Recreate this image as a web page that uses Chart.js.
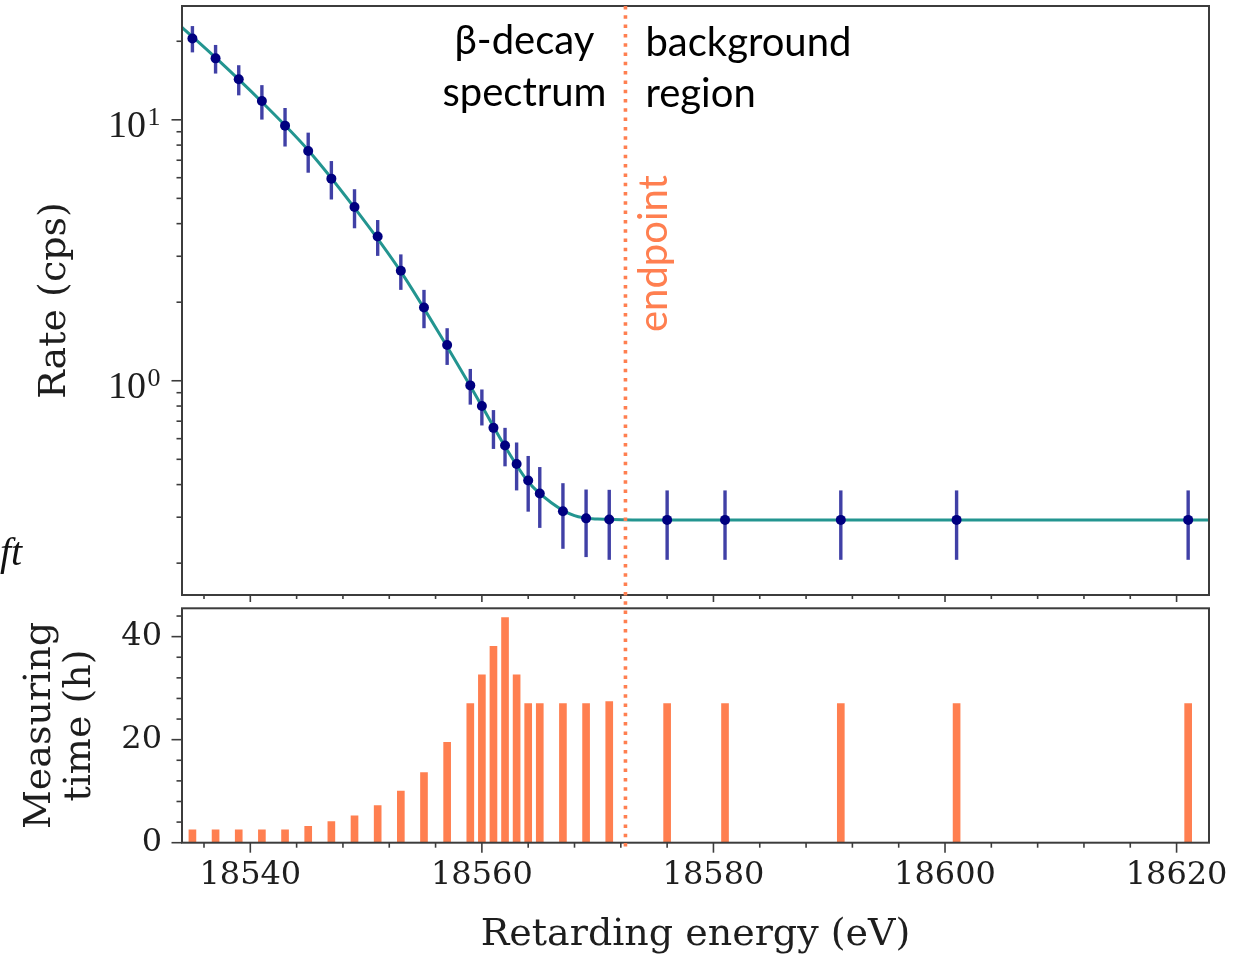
<!DOCTYPE html>
<html>
<head>
<meta charset="utf-8">
<script src="https://cdn.jsdelivr.net/npm/chart.js@4.4.1/dist/chart.umd.min.js"></script>
<style>
  html, body { margin: 0; padding: 0; background: #fff; }
  #fig { position: relative; width: 1246px; height: 956px; background: #fff; overflow: hidden; }
  #rate { position: absolute; left: 0; top: 0; }
  #time { position: absolute; left: 0; top: 602px; }
</style>
</head>
<body>
<div id="fig">
  <canvas id="rate" width="1246" height="602"></canvas>
  <canvas id="time" width="1246" height="354"></canvas>
</div>
<script>
// Retarding energies of the scan steps (eV)
const energies = [18535, 18537, 18539, 18541, 18543, 18545, 18547, 18549, 18551, 18553,
                  18555, 18557, 18559, 18560, 18561, 18562, 18563, 18564, 18565, 18567,
                  18569, 18571, 18576, 18581, 18591, 18601, 18621];
// Measured count rate (cps) and its uncertainty
const rates = [20.5, 17.2, 14.3, 11.8, 9.5, 7.6, 5.95, 4.63, 3.57, 2.64,
               1.91, 1.37, 0.96, 0.80, 0.66, 0.565, 0.48, 0.415, 0.37, 0.316,
               0.297, 0.294, 0.293, 0.293, 0.293, 0.293, 0.293];
const rateErrors = [2.37, 2.16, 1.89, 1.78, 1.6, 1.33, 1.0, 0.79, 0.56, 0.41,
                    0.32, 0.22, 0.15, 0.126, 0.112, 0.095, 0.10, 0.10, 0.097, 0.089,
                    0.086, 0.088, 0.087, 0.087, 0.087, 0.087, 0.087];
// Measuring time per scan step (h)
const hours = [2.5, 2.5, 2.5, 2.5, 2.5, 3.2, 4.1, 5.2, 7.2, 10.0,
               13.6, 19.5, 27.0, 32.6, 38.1, 43.7, 32.6, 27.0, 27.0, 27.0,
               27.0, 27.4, 27.0, 27.0, 27.0, 27.0, 27.0];
// Model curve
const fitEnergies = [18534.1, 18537, 18541, 18545, 18549, 18553, 18557, 18560, 18562,
                     18564, 18566, 18568, 18570, 18573, 18580, 18622.8];
const fitRates = [22.6, 17.3, 11.7, 7.65, 4.6, 2.62, 1.35, 0.80, 0.56,
                  0.41, 0.341, 0.304, 0.295, 0.293, 0.293, 0.293];
const endpointEnergy = 18572.4;

// Axis ticks and labels
const energyTicks = [18540, 18560, 18580, 18600, 18620];
const rateTicks = [1, 10];
const rateTickExponents = ['0', '1'];
const rateMinorTicks = [0.2, 0.3, 0.4, 0.5, 0.6, 0.7, 0.8, 0.9, 2, 3, 4, 5, 6, 7, 8, 9, 20];
const hourTicks = [0, 20, 40];

const xMin = 18534.1, xMax = 18622.8;

function minorSteps(lo, hi, step, majors) {
  const out = [];
  for (let v = lo; v <= hi + 1e-9; v += step) if (!majors.includes(v)) out.push(v);
  return out;
}
const energyMinorTicks = minorSteps(18536, 18620, 4, energyTicks);
const hourMinorTicks = minorSteps(4, 44, 4, hourTicks);

const SERIF = '"DejaVu Serif", serif';
const TIMES = '"Liberation Serif", serif';
const SANS = 'Lato, "Noto Sans", sans-serif';
const INK = '#1e1e1e';
const CORAL = '#ff7f50';
const PERIOD = 9.3;

function noLabelPadding(s) {
  s.paddingTop = 0; s.paddingBottom = 0; s.paddingLeft = 0; s.paddingRight = 0;
}

// frame around the plot area plus major/minor tick marks
function frameAndTicks(marks) {
  return {
    id: 'frameAndTicks',
    afterDraw(chart) {
      const { ctx, chartArea: a } = chart;
      ctx.save();
      ctx.strokeStyle = '#3c3c3c';
      ctx.lineWidth = 1.6;
      for (const m of marks) {
        const s = chart.scales[m.scale];
        for (const [vals, len] of [[m.major, m.majorLen], [m.minor, m.minorLen]]) {
          for (const v of vals) {
            const p = s.getPixelForValue(v);
            ctx.beginPath();
            if (m.scale === 'x') { ctx.moveTo(p, a.bottom); ctx.lineTo(p, a.bottom + len); }
            else { ctx.moveTo(a.left, p); ctx.lineTo(a.left - len, p); }
            ctx.stroke();
          }
        }
      }
      ctx.lineWidth = 2;
      ctx.strokeRect(a.left, a.top, a.right - a.left, a.bottom - a.top);
      ctx.restore();
    }
  };
}

// dotted vertical line at the endpoint energy
function endpointLine(fromTop, toBottom, phase) {
  return {
    id: 'endpointLine',
    afterDraw(chart) {
      const { ctx, chartArea: a } = chart;
      const px = chart.scales.x.getPixelForValue(endpointEnergy);
      ctx.save();
      ctx.strokeStyle = CORAL;
      ctx.lineWidth = 3.6;
      ctx.setLineDash([3.5, PERIOD - 3.5]);
      ctx.lineDashOffset = phase;
      ctx.beginPath();
      ctx.moveTo(px, fromTop(a, chart));
      ctx.lineTo(px, toBottom(a, chart));
      ctx.stroke();
      ctx.restore();
    }
  };
}

// vertical error bars of the rate points
const errorBars = {
  id: 'errorBars',
  beforeDatasetsDraw(chart) {
    const { ctx, chartArea: a, scales: { x, y } } = chart;
    ctx.save();
    ctx.beginPath();
    ctx.rect(a.left, a.top, a.right - a.left, a.bottom - a.top);
    ctx.clip();
    ctx.strokeStyle = 'rgba(30, 30, 150, 0.85)';
    ctx.lineWidth = 3.4;
    energies.forEach((e, i) => {
      const px = x.getPixelForValue(e);
      ctx.beginPath();
      ctx.moveTo(px, y.getPixelForValue(rates[i] + rateErrors[i]));
      ctx.lineTo(px, y.getPixelForValue(rates[i] - rateErrors[i]));
      ctx.stroke();
    });
    ctx.restore();
  }
};

// 10^n labels of the log axis
const logLabels = {
  id: 'logLabels',
  afterDraw(chart) {
    const { ctx, chartArea: a } = chart;
    const s = chart.scales.y;
    ctx.save();
    ctx.fillStyle = INK;
    ctx.textBaseline = 'alphabetic';
    ctx.textAlign = 'right';
    rateTicks.forEach((v, i) => {
      const py = s.getPixelForValue(v);
      const right = a.left - 21.5;
      ctx.font = '26px ' + TIMES;
      ctx.fillText(rateTickExponents[i], right, py + 5);
      const ew = ctx.measureText(rateTickExponents[i]).width;
      ctx.font = '38px ' + TIMES;
      ctx.fillText('10', right - ew - 1.5, py + 17.5);
    });
    ctx.restore();
  }
};

// region annotations
const annotations = {
  id: 'annotations',
  afterDraw(chart) {
    const { ctx } = chart;
    const px = chart.scales.x.getPixelForValue(endpointEnergy);
    ctx.save();
    ctx.font = '40px ' + SANS;
    ctx.fillStyle = '#000';
    ctx.textBaseline = 'alphabetic';
    ctx.textAlign = 'center';
    ctx.fillText('β-decay', px - 101, 54);
    ctx.fillText('spectrum', px - 101, 106);
    ctx.textAlign = 'left';
    ctx.fillText('background', px + 20, 56);
    ctx.fillText('region', px + 20, 107);
    ctx.fillStyle = CORAL;
    ctx.translate(px + 9, 332);
    ctx.rotate(-Math.PI / 2);
    ctx.textBaseline = 'top';
    ctx.fillText('endpoint', 0, 0);
    ctx.restore();
    ctx.save();
    ctx.font = 'italic 40px ' + TIMES;
    ctx.fillStyle = '#111';
    ctx.fillText('ft', 0, 565);
    ctx.restore();
  }
};

const commonPlugins = { legend: { display: false }, tooltip: { enabled: false } };

new Chart(document.getElementById('rate'), {
  type: 'line',
  data: {
    datasets: [
      {
        label: 'data',
        data: energies.map((e, i) => ({ x: e, y: rates[i] })),
        showLine: false,
        pointRadius: 5,
        pointHoverRadius: 5,
        pointBackgroundColor: '#000080',
        pointBorderWidth: 0
      },
      {
        label: 'fit',
        data: fitEnergies.map((e, i) => ({ x: e, y: fitRates[i] })),
        borderColor: '#239590',
        borderWidth: 3,
        pointRadius: 0,
        cubicInterpolationMode: 'monotone',
        fill: false
      }
    ]
  },
  options: {
    responsive: false,
    animation: false,
    devicePixelRatio: 1,
    events: [],
    layout: { autoPadding: false, padding: { left: 0, right: 37, top: 6, bottom: 7 } },
    plugins: commonPlugins,
    scales: {
      x: { type: 'linear', display: false, min: xMin, max: xMax },
      y: {
        type: 'logarithmic',
        min: 0.151,
        max: 27.3,
        afterFit(s) { s.width = 182; noLabelPadding(s); },
        grid: { display: false, drawTicks: false },
        border: { display: false },
        ticks: { display: false },
        title: {
          display: true,
          text: 'Rate (cps)',
          color: INK,
          font: { family: SERIF, size: 38, lineHeight: 1 },
          padding: { top: 36, bottom: 0 }
        }
      }
    }
  },
  plugins: [
    errorBars,
    frameAndTicks([
      { scale: 'x', major: energyTicks, minor: energyMinorTicks, majorLen: 7, minorLen: 4 },
      { scale: 'y', major: rateTicks, minor: rateMinorTicks, majorLen: 10.5, minorLen: 5.5 }
    ]),
    logLabels,
    annotations,
    endpointLine(a => a.top, (a, c) => c.height, 0)
  ]
});

new Chart(document.getElementById('time'), {
  type: 'bar',
  data: {
    datasets: [{
      label: 'time',
      data: energies.map((e, i) => ({ x: e, y: hours[i] })),
      backgroundColor: CORAL,
      borderWidth: 0,
      barThickness: 7
    }]
  },
  options: {
    responsive: false,
    animation: false,
    devicePixelRatio: 1,
    events: [],
    layout: { autoPadding: false, padding: { left: 0, right: 37, top: 6.3, bottom: 0 } },
    plugins: commonPlugins,
    scales: {
      x: {
        type: 'linear',
        min: xMin,
        max: xMax,
        offset: false,
        afterBuildTicks(s) { s.ticks = energyTicks.map(v => ({ value: v })); },
        afterFit(s) { s.height = 113.3; noLabelPadding(s); },
        grid: { display: false, offset: false, drawTicks: false },
        border: { display: false },
        ticks: {
          color: INK,
          font: { family: SERIF, size: 32 },
          padding: 14,
          maxRotation: 0,
          autoSkip: false,
          callback: v => String(v)
        },
        title: {
          display: true,
          text: 'Retarding energy (eV)',
          color: INK,
          font: { family: SERIF, size: 38, lineHeight: 1 },
          padding: { top: 0, bottom: 2 }
        }
      },
      y: {
        type: 'linear',
        min: 0,
        max: 45.5,
        afterBuildTicks(s) { s.ticks = hourTicks.map(v => ({ value: v })); },
        afterFit(s) { s.width = 182; noLabelPadding(s); },
        grid: { display: false, drawTicks: false },
        border: { display: false },
        ticks: { color: INK, font: { family: SERIF, size: 32 }, padding: 20 },
        title: {
          display: true,
          text: ['Measuring', 'time (h)'],
          color: INK,
          font: { family: SERIF, size: 38, lineHeight: 1.05 },
          padding: { top: 20, bottom: 0 }
        }
      }
    }
  },
  plugins: [
    frameAndTicks([
      { scale: 'x', major: energyTicks, minor: energyMinorTicks, majorLen: 10, minorLen: 5 },
      { scale: 'y', major: hourTicks, minor: hourMinorTicks, majorLen: 10.5, minorLen: 5.5 }
    ]),
    endpointLine(() => 0, a => a.bottom + 7.5, (602 - 6) % PERIOD)
  ]
});
</script>
</body>
</html>
